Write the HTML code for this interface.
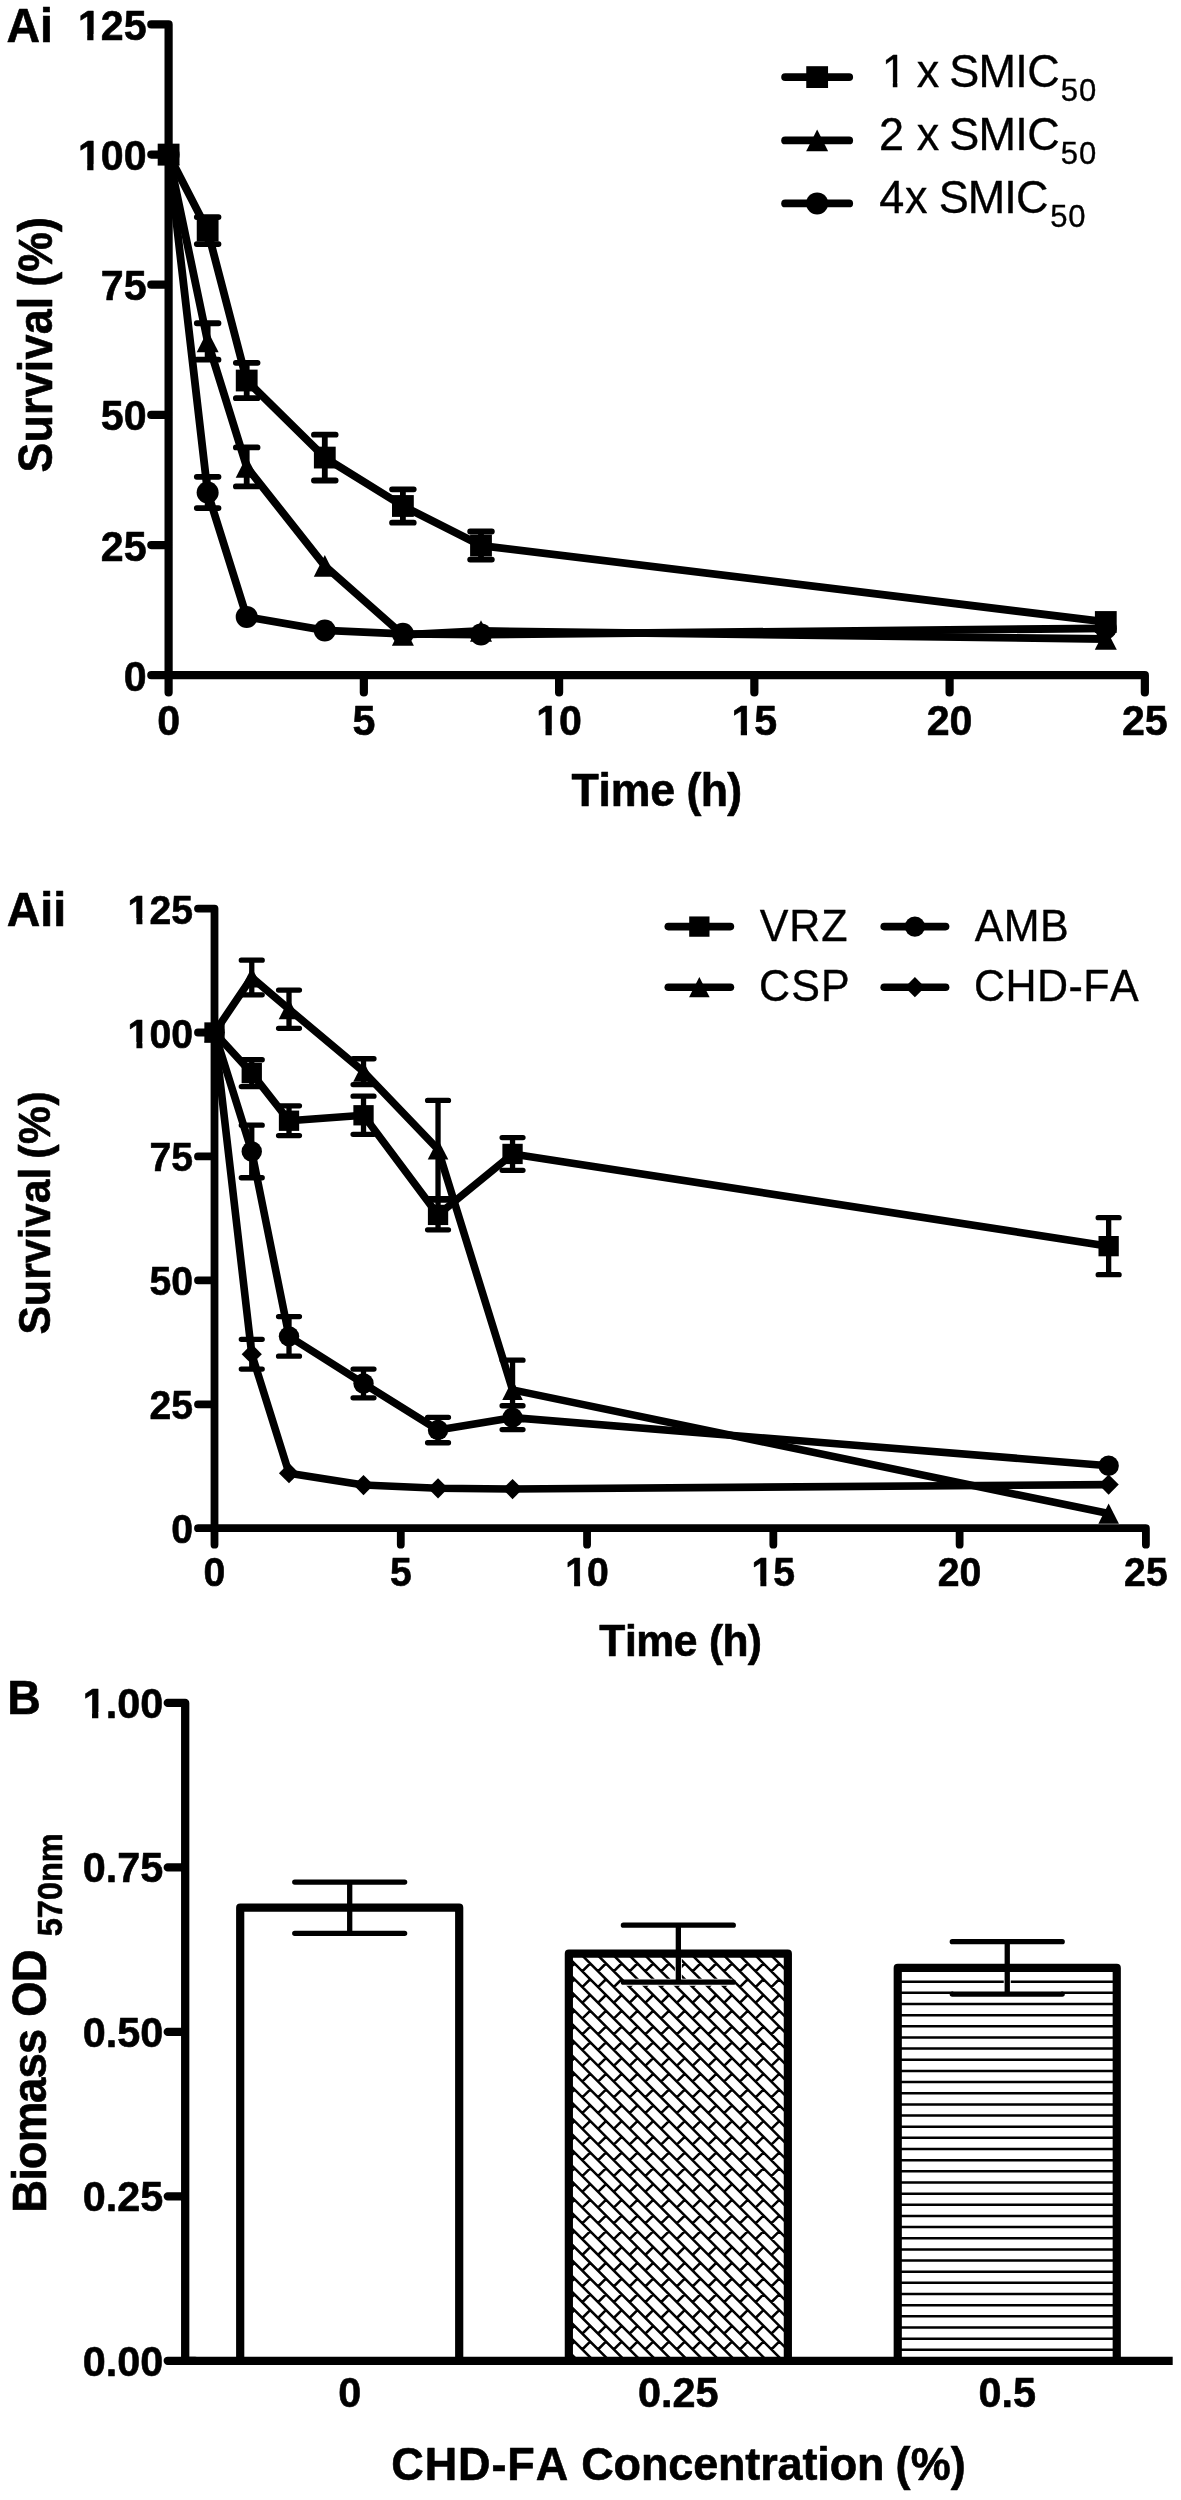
<!DOCTYPE html>
<html lang="en">
<head>
<meta charset="utf-8">
<title>Figure: time-kill curves and biomass</title>
<style>html,body{margin:0;padding:0;background:#fff;}body{width:1181px;height:2500px;overflow:hidden;font-family:"Liberation Sans",sans-serif;}svg{will-change:transform;}svg text{font-family:"Liberation Sans",sans-serif;font-kerning:none;stroke:#000;stroke-linejoin:round;}svg text[font-weight=bold]{stroke-width:.6px}svg text[font-weight=normal]{stroke-width:.35px}</style>
</head>
<body>
<svg width="1181" height="2500" viewBox="0 0 1181 2500" font-family="Liberation Sans, sans-serif" fill="#000" style="display:block">
<rect width="1181" height="2500" fill="#fff"/>
<g>
<g id="panel-ai"><path d="M151.3 24.4H168.6V692.5M151.3 675.2H1144.85V692.5M151.3 545.04H168.6M151.3 414.88H168.6M151.3 284.72H168.6M151.3 154.56H168.6M363.85 675.2V692.5M559.1 675.2V692.5M754.35 675.2V692.5M949.6 675.2V692.5" fill="none" stroke="#000" stroke-width="8.2" stroke-linecap="round" stroke-linejoin="round"/>
<text transform="translate(146.6 690.8) scale(0.98 1.02)" font-size="42" font-weight="bold" text-anchor="end">0</text>
<text transform="translate(146.6 560.64) scale(0.98 1.02)" font-size="42" font-weight="bold" text-anchor="end">25</text>
<text transform="translate(146.6 430.48) scale(0.98 1.02)" font-size="42" font-weight="bold" text-anchor="end">50</text>
<text transform="translate(146.6 300.32) scale(0.98 1.02)" font-size="42" font-weight="bold" text-anchor="end">75</text>
<text transform="translate(146.6 170.16) scale(0.98 1.02)" font-size="42" font-weight="bold" text-anchor="end">100</text><rect x="79.12" y="164.39" width="8.11" height="7.37" fill="#fff"/><rect x="93.48" y="164.39" width="7.59" height="7.37" fill="#fff"/>
<text transform="translate(146.6 40) scale(0.98 1.02)" font-size="42" font-weight="bold" text-anchor="end">125</text><rect x="79.12" y="34.23" width="8.11" height="7.37" fill="#fff"/><rect x="93.48" y="34.23" width="7.59" height="7.37" fill="#fff"/>
<text transform="translate(168.6 735.3) scale(0.98 1.02)" font-size="42" font-weight="bold" text-anchor="middle">0</text>
<text transform="translate(363.85 735.3) scale(0.98 1.02)" font-size="42" font-weight="bold" text-anchor="middle">5</text>
<text transform="translate(559.1 735.3) scale(0.98 1.02)" font-size="42" font-weight="bold" text-anchor="middle">10</text><rect x="537.4" y="729.53" width="8.11" height="7.37" fill="#fff"/><rect x="551.76" y="729.53" width="7.59" height="7.37" fill="#fff"/>
<text transform="translate(754.35 735.3) scale(0.98 1.02)" font-size="42" font-weight="bold" text-anchor="middle">15</text><rect x="732.65" y="729.53" width="8.11" height="7.37" fill="#fff"/><rect x="747.01" y="729.53" width="7.59" height="7.37" fill="#fff"/>
<text transform="translate(949.6 735.3) scale(0.98 1.02)" font-size="42" font-weight="bold" text-anchor="middle">20</text>
<text transform="translate(1144.85 735.3) scale(0.98 1.02)" font-size="42" font-weight="bold" text-anchor="middle">25</text>
<text transform="translate(51.8 472.59) rotate(-90) scale(1 1.07)" font-size="44.7" font-weight="bold" style="letter-spacing:0.274px;font-kerning:none">Survival</text>
<text transform="translate(51.8 286.63) rotate(-90) scale(1 1.07)" font-size="44.7" font-weight="bold" style="letter-spacing:0.018px;font-kerning:none">(%)</text>
<text transform="translate(571.5 806.3) scale(1 1.04)" font-size="44.7" font-weight="bold" style="letter-spacing:-0.266px;font-kerning:none">Time</text>
<text transform="translate(686.57 806.3) scale(1 1.04)" font-size="44.7" font-weight="bold" style="letter-spacing:-0.811px;font-kerning:none">(h)</text>
<text transform="translate(6.4 42) scale(1 1.04)" font-size="46.5" font-weight="bold" text-anchor="start">Ai</text>
<polyline points="168.6,154.56 207.65,230.57 246.7,380.52 324.8,457.57 402.9,505.99 481,545.56 1105.8,621.99" fill="none" stroke="#000" stroke-width="7.8" stroke-linejoin="round" stroke-linecap="round"/>
<g fill="none" stroke="#000" stroke-linecap="round"><path d="M207.65 217.04V244.11M196.8 217.04H218.5M196.8 244.11H218.5" stroke-width="5.8"/><path d="M246.7 362.82V398.22M235.85 362.82H257.55M235.85 398.22H257.55" stroke-width="5.8"/><path d="M324.8 434.66V480.48M313.95 434.66H335.65M313.95 480.48H335.65" stroke-width="5.8"/><path d="M402.9 489.33V522.65M392.05 489.33H413.75M392.05 522.65H413.75" stroke-width="5.8"/><path d="M481 531.5V559.62M470.15 531.5H491.85M470.15 559.62H491.85" stroke-width="5.8"/></g>
<g fill="#000"><rect x="157.7" y="143.66" width="21.8" height="21.8"/><rect x="196.75" y="219.67" width="21.8" height="21.8"/><rect x="235.8" y="369.62" width="21.8" height="21.8"/><rect x="313.9" y="446.67" width="21.8" height="21.8"/><rect x="392" y="495.09" width="21.8" height="21.8"/><rect x="470.1" y="534.66" width="21.8" height="21.8"/><rect x="1094.9" y="611.09" width="21.8" height="21.8"/></g>
<polyline points="168.6,154.56 207.65,341.47 246.7,466.94 324.8,565.87 402.9,634.85 481,630.95 1105.8,639.02" fill="none" stroke="#000" stroke-width="7.8" stroke-linejoin="round" stroke-linecap="round"/>
<g fill="none" stroke="#000" stroke-linecap="round"><path d="M207.65 323.25V359.69M196.8 323.25H218.5M196.8 359.69H218.5" stroke-width="5.8"/><path d="M246.7 447.42V486.47M235.85 447.42H257.55M235.85 486.47H257.55" stroke-width="5.8"/></g>
<g fill="#000"><path d="M168.6 143.78L179.6 165.34L157.6 165.34Z"/><path d="M207.65 330.69L218.65 352.25L196.65 352.25Z"/><path d="M246.7 456.16L257.7 477.72L235.7 477.72Z"/><path d="M324.8 555.09L335.8 576.65L313.8 576.65Z"/><path d="M402.9 624.07L413.9 645.63L391.9 645.63Z"/><path d="M481 620.17L492 641.73L470 641.73Z"/><path d="M1105.8 628.24L1116.8 649.8L1094.8 649.8Z"/></g>
<polyline points="168.6,154.56 207.65,492.46 246.7,616.89 324.8,630.42 402.9,633.81 481,634.59 1105.8,628.34" fill="none" stroke="#000" stroke-width="7.8" stroke-linejoin="round" stroke-linecap="round"/>
<g fill="none" stroke="#000" stroke-linecap="round"><path d="M207.65 476.84V508.07M196.8 476.84H218.5M196.8 508.07H218.5" stroke-width="5.8"/></g>
<g fill="#000"><circle cx="168.6" cy="154.56" r="11"/><circle cx="207.65" cy="492.46" r="11"/><circle cx="246.7" cy="616.89" r="11"/><circle cx="324.8" cy="630.42" r="11"/><circle cx="402.9" cy="633.81" r="11"/><circle cx="481" cy="634.59" r="11"/><circle cx="1105.8" cy="628.34" r="11"/></g>
<path d="M785.1 77.1H849.2" stroke="#000" stroke-width="7.8" stroke-linecap="round"/>
<g fill="#000"><rect x="806.25" y="66.2" width="21.8" height="21.8"/></g>
<path d="M785.1 140.4H849.2" stroke="#000" stroke-width="7.8" stroke-linecap="round"/>
<g fill="#000"><path d="M817.15 129.62L828.15 151.18L806.15 151.18Z"/></g>
<path d="M785.1 203.4H849.2" stroke="#000" stroke-width="7.8" stroke-linecap="round"/>
<g fill="#000"><circle cx="817.15" cy="203.4" r="11"/></g>
<text transform="translate(894.3 87) scale(1 1.04)" font-size="45" font-weight="normal" text-anchor="middle">1</text><rect x="883.81" y="82.1" width="8.99" height="6.5" fill="#fff"/><rect x="897.38" y="82.1" width="8.64" height="6.5" fill="#fff"/>
<text transform="translate(916.69 87) scale(1 1.04)" font-size="45" font-weight="normal" style="letter-spacing:0.000px;font-kerning:none">x</text>
<text transform="translate(949.26 87) scale(1 1.04)" font-size="45" font-weight="normal" style="letter-spacing:-0.681px;font-kerning:none">SMIC</text>
<text transform="translate(1060.86 101.1) scale(1 1.04)" font-size="31" font-weight="normal" style="letter-spacing:0.871px;font-kerning:none">50</text>
<text transform="translate(878.94 149.7) scale(1 1.04)" font-size="45" font-weight="normal" style="letter-spacing:0.000px;font-kerning:none">2</text>
<text transform="translate(916.69 149.7) scale(1 1.04)" font-size="45" font-weight="normal" style="letter-spacing:0.000px;font-kerning:none">x</text>
<text transform="translate(949.26 149.7) scale(1 1.04)" font-size="45" font-weight="normal" style="letter-spacing:-0.681px;font-kerning:none">SMIC</text>
<text transform="translate(1060.86 163.7) scale(1 1.04)" font-size="31" font-weight="normal" style="letter-spacing:0.871px;font-kerning:none">50</text>
<text transform="translate(879.17 212.7) scale(1 1.04)" font-size="45" font-weight="normal" style="letter-spacing:0.689px;font-kerning:none">4x</text>
<text transform="translate(938.66 212.7) scale(1 1.04)" font-size="45" font-weight="normal" style="letter-spacing:-0.881px;font-kerning:none">SMIC</text>
<text transform="translate(1050.26 226.7) scale(1 1.04)" font-size="31" font-weight="normal" style="letter-spacing:0.871px;font-kerning:none">50</text></g>
<g id="panel-aii"><path d="M198 908.58H214.5V1544.7M198 1528.2H1145.9V1544.7M198 1404.28H214.5M198 1280.35H214.5M198 1156.43H214.5M198 1032.5H214.5M400.78 1528.2V1544.7M587.06 1528.2V1544.7M773.34 1528.2V1544.7M959.62 1528.2V1544.7" fill="none" stroke="#000" stroke-width="7.8" stroke-linecap="round" stroke-linejoin="round"/>
<text transform="translate(193 1543.2) scale(0.98 1.02)" font-size="40" font-weight="bold" text-anchor="end">0</text>
<text transform="translate(193 1419.28) scale(0.98 1.02)" font-size="40" font-weight="bold" text-anchor="end">25</text>
<text transform="translate(193 1295.35) scale(0.98 1.02)" font-size="40" font-weight="bold" text-anchor="end">50</text>
<text transform="translate(193 1171.43) scale(0.98 1.02)" font-size="40" font-weight="bold" text-anchor="end">75</text>
<text transform="translate(193 1047.5) scale(0.98 1.02)" font-size="40" font-weight="bold" text-anchor="end">100</text><rect x="128.67" y="1041.94" width="7.78" height="7.16" fill="#fff"/><rect x="142.42" y="1041.94" width="7.28" height="7.16" fill="#fff"/>
<text transform="translate(193 923.58) scale(0.98 1.02)" font-size="40" font-weight="bold" text-anchor="end">125</text><rect x="128.67" y="918.01" width="7.78" height="7.16" fill="#fff"/><rect x="142.42" y="918.01" width="7.28" height="7.16" fill="#fff"/>
<text transform="translate(214.5 1586.3) scale(0.98 1.02)" font-size="40" font-weight="bold" text-anchor="middle">0</text>
<text transform="translate(400.78 1586.3) scale(0.98 1.02)" font-size="40" font-weight="bold" text-anchor="middle">5</text>
<text transform="translate(587.06 1586.3) scale(0.98 1.02)" font-size="40" font-weight="bold" text-anchor="middle">10</text><rect x="566.33" y="1580.74" width="7.78" height="7.16" fill="#fff"/><rect x="580.09" y="1580.74" width="7.28" height="7.16" fill="#fff"/>
<text transform="translate(773.34 1586.3) scale(0.98 1.02)" font-size="40" font-weight="bold" text-anchor="middle">15</text><rect x="752.61" y="1580.74" width="7.78" height="7.16" fill="#fff"/><rect x="766.37" y="1580.74" width="7.28" height="7.16" fill="#fff"/>
<text transform="translate(959.62 1586.3) scale(0.98 1.02)" font-size="40" font-weight="bold" text-anchor="middle">20</text>
<text transform="translate(1145.9 1586.3) scale(0.98 1.02)" font-size="40" font-weight="bold" text-anchor="middle">25</text>
<text transform="translate(49.9 1334.53) rotate(-90) scale(1 1.06)" font-size="42.6" font-weight="bold" style="letter-spacing:0.183px;font-kerning:none">Survival</text>
<text transform="translate(49.9 1158.82) rotate(-90) scale(1 1.06)" font-size="42.6" font-weight="bold" style="letter-spacing:0.696px;font-kerning:none">(%)</text>
<text transform="translate(599.32 1656) scale(1 1.04)" font-size="42.6" font-weight="bold" style="letter-spacing:-0.431px;font-kerning:none">Time</text>
<text transform="translate(709.08 1656) scale(1 1.04)" font-size="42.6" font-weight="bold" style="letter-spacing:-0.775px;font-kerning:none">(h)</text>
<text transform="translate(6.8 925.5) scale(1 1.04)" font-size="46.5" font-weight="bold" text-anchor="start">Aii</text>
<polyline points="214.5,1032.5 251.76,1073.15 289.01,1120.73 363.52,1115.28 438.04,1214.92 512.55,1153.95 1108.64,1246.15" fill="none" stroke="#000" stroke-width="7.6" stroke-linejoin="round" stroke-linecap="round"/>
<g fill="none" stroke="#000" stroke-linecap="round"><path d="M251.76 1059.76V1086.53M241.31 1059.76H262.21M241.31 1086.53H262.21" stroke-width="5.3"/><path d="M289.01 1105.86V1135.61M278.56 1105.86H299.46M278.56 1135.61H299.46" stroke-width="5.3"/><path d="M363.52 1096.2V1134.37M353.07 1096.2H373.97M353.07 1134.37H373.97" stroke-width="5.3"/><path d="M438.04 1200.05V1229.79M427.59 1200.05H448.49M427.59 1229.79H448.49" stroke-width="5.3"/><path d="M512.55 1137.59V1170.3M502.1 1137.59H523M502.1 1170.3H523" stroke-width="5.3"/><path d="M1108.64 1217.64V1274.65M1098.19 1217.64H1119.09M1098.19 1274.65H1119.09" stroke-width="5.3"/></g>
<g fill="#000"><rect x="204.35" y="1022.35" width="20.3" height="20.3"/><rect x="241.61" y="1063" width="20.3" height="20.3"/><rect x="278.86" y="1110.58" width="20.3" height="20.3"/><rect x="353.37" y="1105.13" width="20.3" height="20.3"/><rect x="427.89" y="1204.77" width="20.3" height="20.3"/><rect x="502.4" y="1143.8" width="20.3" height="20.3"/><rect x="1098.49" y="1236" width="20.3" height="20.3"/></g>
<polyline points="214.5,1032.5 251.76,977.48 289.01,1009.2 363.52,1071.66 438.04,1149.49 512.55,1389.9 1108.64,1513.58" fill="none" stroke="#000" stroke-width="7.6" stroke-linejoin="round" stroke-linecap="round"/>
<g fill="none" stroke="#000" stroke-linecap="round"><path d="M251.76 960.13V994.83M241.31 960.13H262.21M241.31 994.83H262.21" stroke-width="5.3"/><path d="M289.01 990.12V1028.29M278.56 990.12H299.46M278.56 1028.29H299.46" stroke-width="5.3"/><path d="M363.52 1058.77V1084.55M353.07 1058.77H373.97M353.07 1084.55H373.97" stroke-width="5.3"/><path d="M438.04 1100.41V1198.56M427.59 1100.41H448.49M427.59 1198.56H448.49" stroke-width="5.3"/><path d="M512.55 1360.16V1419.64M502.1 1360.16H523M502.1 1419.64H523" stroke-width="5.3"/></g>
<g fill="#000"><path d="M214.5 1022.41L224.8 1042.59L204.2 1042.59Z"/><path d="M251.76 967.38L262.06 987.57L241.46 987.57Z"/><path d="M289.01 999.11L299.31 1019.3L278.71 1019.3Z"/><path d="M363.52 1061.57L373.82 1081.75L353.22 1081.75Z"/><path d="M438.04 1139.39L448.34 1159.58L427.74 1159.58Z"/><path d="M512.55 1379.81L522.85 1399.99L502.25 1399.99Z"/><path d="M1108.64 1503.48L1118.94 1523.67L1098.34 1523.67Z"/></g>
<polyline points="214.5,1032.5 251.76,1151.47 289.01,1336.36 363.52,1383.46 438.04,1430.05 512.55,1417.66 1108.64,1465.74" fill="none" stroke="#000" stroke-width="7.6" stroke-linejoin="round" stroke-linecap="round"/>
<g fill="none" stroke="#000" stroke-linecap="round"><path d="M251.76 1125.2V1177.74M241.31 1125.2H262.21M241.31 1177.74H262.21" stroke-width="5.3"/><path d="M289.01 1316.54V1356.19M278.56 1316.54H299.46M278.56 1356.19H299.46" stroke-width="5.3"/><path d="M363.52 1369.08V1397.83M353.07 1369.08H373.97M353.07 1397.83H373.97" stroke-width="5.3"/><path d="M438.04 1417.36V1442.74M427.59 1417.36H448.49M427.59 1442.74H448.49" stroke-width="5.3"/><path d="M512.55 1405.76V1429.56M502.1 1405.76H523M502.1 1429.56H523" stroke-width="5.3"/></g>
<g fill="#000"><circle cx="214.5" cy="1032.5" r="10.2"/><circle cx="251.76" cy="1151.47" r="10.2"/><circle cx="289.01" cy="1336.36" r="10.2"/><circle cx="363.52" cy="1383.46" r="10.2"/><circle cx="438.04" cy="1430.05" r="10.2"/><circle cx="512.55" cy="1417.66" r="10.2"/><circle cx="1108.64" cy="1465.74" r="10.2"/></g>
<polyline points="214.5,1032.5 251.76,1354.21 289.01,1473.18 363.52,1485.07 438.04,1488.3 512.55,1489.04 1108.64,1484.58" fill="none" stroke="#000" stroke-width="7.6" stroke-linejoin="round" stroke-linecap="round"/>
<g fill="none" stroke="#000" stroke-linecap="round"><path d="M251.76 1339.34V1369.08M241.31 1339.34H262.21M241.31 1369.08H262.21" stroke-width="5.3"/></g>
<g fill="#000"><path d="M214.5 1022.41L224.59 1032.5L214.5 1042.59L204.41 1032.5Z"/><path d="M251.76 1344.12L261.85 1354.21L251.76 1364.3L241.66 1354.21Z"/><path d="M289.01 1463.08L299.11 1473.18L289.01 1483.27L278.92 1473.18Z"/><path d="M363.52 1474.98L373.62 1485.07L363.52 1495.17L353.43 1485.07Z"/><path d="M438.04 1478.2L448.13 1488.3L438.04 1498.39L427.94 1488.3Z"/><path d="M512.55 1478.95L522.64 1489.04L512.55 1499.13L502.45 1489.04Z"/><path d="M1108.64 1474.48L1118.74 1484.58L1108.64 1494.67L1098.55 1484.58Z"/></g>
<path d="M668.3 926.6H730.4" stroke="#000" stroke-width="7.6" stroke-linecap="round"/>
<g fill="#000"><rect x="689.2" y="916.45" width="20.3" height="20.3"/></g>
<path d="M668.3 987.2H730.4" stroke="#000" stroke-width="7.6" stroke-linecap="round"/>
<g fill="#000"><path d="M699.35 977.11L709.65 997.29L689.05 997.29Z"/></g>
<path d="M884.2 926.6H945.6" stroke="#000" stroke-width="7.6" stroke-linecap="round"/>
<g fill="#000"><circle cx="914.9" cy="926.6" r="10.2"/></g>
<path d="M884.2 987.2H945.6" stroke="#000" stroke-width="7.6" stroke-linecap="round"/>
<g fill="#000"><path d="M914.9 977.11L924.99 987.2L914.9 997.29L904.81 987.2Z"/></g>
<text transform="translate(759.71 941.1) scale(1 1.04)" font-size="43" font-weight="normal" style="letter-spacing:0.966px;font-kerning:none">VRZ</text>
<text transform="translate(758.92 1001.4) scale(1 1.04)" font-size="43" font-weight="normal" style="letter-spacing:1.218px;font-kerning:none">CSP</text>
<text transform="translate(974.82 941.1) scale(1 1.04)" font-size="43" font-weight="normal" style="letter-spacing:0.285px;font-kerning:none">AMB</text>
<text transform="translate(973.92 1001.4) scale(1 1.04)" font-size="43" font-weight="normal" style="letter-spacing:0.488px;font-kerning:none">CHD-FA</text></g>
<g id="panel-b"><defs>
<clipPath id="cb0"><rect x="240.2" y="1907.7" width="219" height="453.1"/></clipPath>
<clipPath id="cb1"><rect x="568.85" y="1953.69" width="219" height="407.11"/></clipPath>
<clipPath id="cb2"><rect x="897.75" y="1967.9" width="219" height="392.9"/></clipPath>
</defs>
<path clip-path="url(#cb1)" d="M137.31 1951.69L548.42 2362.8M153.07 1951.69L564.18 2362.8M168.82 1951.69L579.93 2362.8M184.58 1951.69L595.69 2362.8M200.33 1951.69L611.44 2362.8M216.09 1951.69L627.2 2362.8M231.84 1951.69L642.95 2362.8M247.6 1951.69L658.71 2362.8M263.35 1951.69L674.46 2362.8M279.11 1951.69L690.22 2362.8M294.86 1951.69L705.97 2362.8M310.62 1951.69L721.73 2362.8M326.37 1951.69L737.48 2362.8M342.13 1951.69L753.24 2362.8M357.88 1951.69L768.99 2362.8M373.64 1951.69L784.75 2362.8M389.39 1951.69L800.5 2362.8M405.15 1951.69L816.26 2362.8M420.9 1951.69L832.01 2362.8M436.66 1951.69L847.77 2362.8M452.41 1951.69L863.52 2362.8M468.17 1951.69L879.28 2362.8M483.92 1951.69L895.03 2362.8M499.68 1951.69L910.79 2362.8M515.43 1951.69L926.54 2362.8M531.19 1951.69L942.3 2362.8M546.94 1951.69L958.05 2362.8M562.7 1951.69L973.81 2362.8M578.45 1951.69L989.56 2362.8M594.21 1951.69L1005.32 2362.8M609.96 1951.69L1021.07 2362.8M625.72 1951.69L1036.83 2362.8M641.47 1951.69L1052.58 2362.8M657.23 1951.69L1068.34 2362.8M672.98 1951.69L1084.09 2362.8M688.74 1951.69L1099.85 2362.8M704.49 1951.69L1115.6 2362.8M720.25 1951.69L1131.36 2362.8M736 1951.69L1147.11 2362.8M751.76 1951.69L1162.87 2362.8M767.51 1951.69L1178.62 2362.8M783.27 1951.69L1194.38 2362.8M799.02 1951.69L1210.13 2362.8M814.78 1951.69L1225.89 2362.8M535 1924.12L542.87 1916.25M535 1939.88L542.87 1932M535 1955.63L542.87 1947.76M535 1971.39L542.87 1963.51M535 1987.14L542.87 1979.27M535 2002.9L542.87 1995.02M535 2018.65L542.87 2010.78M535 2034.41L542.87 2026.53M535 2050.16L542.87 2042.29M535 2065.92L542.87 2058.04M535 2081.67L542.87 2073.8M535 2097.43L542.87 2089.55M535 2113.18L542.87 2105.31M535 2128.94L542.87 2121.06M535 2144.69L542.87 2136.82M535 2160.45L542.87 2152.57M535 2176.2L542.87 2168.33M535 2191.96L542.87 2184.08M535 2207.71L542.87 2199.84M535 2223.47L542.87 2215.59M535 2239.22L542.87 2231.35M535 2254.98L542.87 2247.1M535 2270.73L542.87 2262.86M535 2286.49L542.87 2278.61M535 2302.24L542.87 2294.37M535 2318L542.87 2310.12M535 2333.75L542.87 2325.88M535 2349.51L542.87 2341.63M535 2365.26L542.87 2357.39M535 2381.02L542.87 2373.14M535 2396.77L542.87 2388.9M550.75 1924.12L558.63 1916.25M550.75 1939.88L558.63 1932M550.75 1955.63L558.63 1947.76M550.75 1971.39L558.63 1963.51M550.75 1987.14L558.63 1979.27M550.75 2002.9L558.63 1995.02M550.75 2018.65L558.63 2010.78M550.75 2034.41L558.63 2026.53M550.75 2050.16L558.63 2042.29M550.75 2065.92L558.63 2058.04M550.75 2081.67L558.63 2073.8M550.75 2097.43L558.63 2089.55M550.75 2113.18L558.63 2105.31M550.75 2128.94L558.63 2121.06M550.75 2144.69L558.63 2136.82M550.75 2160.45L558.63 2152.57M550.75 2176.2L558.63 2168.33M550.75 2191.96L558.63 2184.08M550.75 2207.71L558.63 2199.84M550.75 2223.47L558.63 2215.59M550.75 2239.22L558.63 2231.35M550.75 2254.98L558.63 2247.1M550.75 2270.73L558.63 2262.86M550.75 2286.49L558.63 2278.61M550.75 2302.24L558.63 2294.37M550.75 2318L558.63 2310.12M550.75 2333.75L558.63 2325.88M550.75 2349.51L558.63 2341.63M550.75 2365.26L558.63 2357.39M550.75 2381.02L558.63 2373.14M550.75 2396.77L558.63 2388.9M566.51 1924.12L574.38 1916.25M566.51 1939.88L574.38 1932M566.51 1955.63L574.38 1947.76M566.51 1971.39L574.38 1963.51M566.51 1987.14L574.38 1979.27M566.51 2002.9L574.38 1995.02M566.51 2018.65L574.38 2010.78M566.51 2034.41L574.38 2026.53M566.51 2050.16L574.38 2042.29M566.51 2065.92L574.38 2058.04M566.51 2081.67L574.38 2073.8M566.51 2097.43L574.38 2089.55M566.51 2113.18L574.38 2105.31M566.51 2128.94L574.38 2121.06M566.51 2144.69L574.38 2136.82M566.51 2160.45L574.38 2152.57M566.51 2176.2L574.38 2168.33M566.51 2191.96L574.38 2184.08M566.51 2207.71L574.38 2199.84M566.51 2223.47L574.38 2215.59M566.51 2239.22L574.38 2231.35M566.51 2254.98L574.38 2247.1M566.51 2270.73L574.38 2262.86M566.51 2286.49L574.38 2278.61M566.51 2302.24L574.38 2294.37M566.51 2318L574.38 2310.12M566.51 2333.75L574.38 2325.88M566.51 2349.51L574.38 2341.63M566.51 2365.26L574.38 2357.39M566.51 2381.02L574.38 2373.14M566.51 2396.77L574.38 2388.9M582.26 1924.12L590.14 1916.25M582.26 1939.88L590.14 1932M582.26 1955.63L590.14 1947.76M582.26 1971.39L590.14 1963.51M582.26 1987.14L590.14 1979.27M582.26 2002.9L590.14 1995.02M582.26 2018.65L590.14 2010.78M582.26 2034.41L590.14 2026.53M582.26 2050.16L590.14 2042.29M582.26 2065.92L590.14 2058.04M582.26 2081.67L590.14 2073.8M582.26 2097.43L590.14 2089.55M582.26 2113.18L590.14 2105.31M582.26 2128.94L590.14 2121.06M582.26 2144.69L590.14 2136.82M582.26 2160.45L590.14 2152.57M582.26 2176.2L590.14 2168.33M582.26 2191.96L590.14 2184.08M582.26 2207.71L590.14 2199.84M582.26 2223.47L590.14 2215.59M582.26 2239.22L590.14 2231.35M582.26 2254.98L590.14 2247.1M582.26 2270.73L590.14 2262.86M582.26 2286.49L590.14 2278.61M582.26 2302.24L590.14 2294.37M582.26 2318L590.14 2310.12M582.26 2333.75L590.14 2325.88M582.26 2349.51L590.14 2341.63M582.26 2365.26L590.14 2357.39M582.26 2381.02L590.14 2373.14M582.26 2396.77L590.14 2388.9M598.02 1924.12L605.89 1916.25M598.02 1939.88L605.89 1932M598.02 1955.63L605.89 1947.76M598.02 1971.39L605.89 1963.51M598.02 1987.14L605.89 1979.27M598.02 2002.9L605.89 1995.02M598.02 2018.65L605.89 2010.78M598.02 2034.41L605.89 2026.53M598.02 2050.16L605.89 2042.29M598.02 2065.92L605.89 2058.04M598.02 2081.67L605.89 2073.8M598.02 2097.43L605.89 2089.55M598.02 2113.18L605.89 2105.31M598.02 2128.94L605.89 2121.06M598.02 2144.69L605.89 2136.82M598.02 2160.45L605.89 2152.57M598.02 2176.2L605.89 2168.33M598.02 2191.96L605.89 2184.08M598.02 2207.71L605.89 2199.84M598.02 2223.47L605.89 2215.59M598.02 2239.22L605.89 2231.35M598.02 2254.98L605.89 2247.1M598.02 2270.73L605.89 2262.86M598.02 2286.49L605.89 2278.61M598.02 2302.24L605.89 2294.37M598.02 2318L605.89 2310.12M598.02 2333.75L605.89 2325.88M598.02 2349.51L605.89 2341.63M598.02 2365.26L605.89 2357.39M598.02 2381.02L605.89 2373.14M598.02 2396.77L605.89 2388.9M613.77 1924.12L621.65 1916.25M613.77 1939.88L621.65 1932M613.77 1955.63L621.65 1947.76M613.77 1971.39L621.65 1963.51M613.77 1987.14L621.65 1979.27M613.77 2002.9L621.65 1995.02M613.77 2018.65L621.65 2010.78M613.77 2034.41L621.65 2026.53M613.77 2050.16L621.65 2042.29M613.77 2065.92L621.65 2058.04M613.77 2081.67L621.65 2073.8M613.77 2097.43L621.65 2089.55M613.77 2113.18L621.65 2105.31M613.77 2128.94L621.65 2121.06M613.77 2144.69L621.65 2136.82M613.77 2160.45L621.65 2152.57M613.77 2176.2L621.65 2168.33M613.77 2191.96L621.65 2184.08M613.77 2207.71L621.65 2199.84M613.77 2223.47L621.65 2215.59M613.77 2239.22L621.65 2231.35M613.77 2254.98L621.65 2247.1M613.77 2270.73L621.65 2262.86M613.77 2286.49L621.65 2278.61M613.77 2302.24L621.65 2294.37M613.77 2318L621.65 2310.12M613.77 2333.75L621.65 2325.88M613.77 2349.51L621.65 2341.63M613.77 2365.26L621.65 2357.39M613.77 2381.02L621.65 2373.14M613.77 2396.77L621.65 2388.9M629.53 1924.12L637.4 1916.25M629.53 1939.88L637.4 1932M629.53 1955.63L637.4 1947.76M629.53 1971.39L637.4 1963.51M629.53 1987.14L637.4 1979.27M629.53 2002.9L637.4 1995.02M629.53 2018.65L637.4 2010.78M629.53 2034.41L637.4 2026.53M629.53 2050.16L637.4 2042.29M629.53 2065.92L637.4 2058.04M629.53 2081.67L637.4 2073.8M629.53 2097.43L637.4 2089.55M629.53 2113.18L637.4 2105.31M629.53 2128.94L637.4 2121.06M629.53 2144.69L637.4 2136.82M629.53 2160.45L637.4 2152.57M629.53 2176.2L637.4 2168.33M629.53 2191.96L637.4 2184.08M629.53 2207.71L637.4 2199.84M629.53 2223.47L637.4 2215.59M629.53 2239.22L637.4 2231.35M629.53 2254.98L637.4 2247.1M629.53 2270.73L637.4 2262.86M629.53 2286.49L637.4 2278.61M629.53 2302.24L637.4 2294.37M629.53 2318L637.4 2310.12M629.53 2333.75L637.4 2325.88M629.53 2349.51L637.4 2341.63M629.53 2365.26L637.4 2357.39M629.53 2381.02L637.4 2373.14M629.53 2396.77L637.4 2388.9M645.28 1924.12L653.16 1916.25M645.28 1939.88L653.16 1932M645.28 1955.63L653.16 1947.76M645.28 1971.39L653.16 1963.51M645.28 1987.14L653.16 1979.27M645.28 2002.9L653.16 1995.02M645.28 2018.65L653.16 2010.78M645.28 2034.41L653.16 2026.53M645.28 2050.16L653.16 2042.29M645.28 2065.92L653.16 2058.04M645.28 2081.67L653.16 2073.8M645.28 2097.43L653.16 2089.55M645.28 2113.18L653.16 2105.31M645.28 2128.94L653.16 2121.06M645.28 2144.69L653.16 2136.82M645.28 2160.45L653.16 2152.57M645.28 2176.2L653.16 2168.33M645.28 2191.96L653.16 2184.08M645.28 2207.71L653.16 2199.84M645.28 2223.47L653.16 2215.59M645.28 2239.22L653.16 2231.35M645.28 2254.98L653.16 2247.1M645.28 2270.73L653.16 2262.86M645.28 2286.49L653.16 2278.61M645.28 2302.24L653.16 2294.37M645.28 2318L653.16 2310.12M645.28 2333.75L653.16 2325.88M645.28 2349.51L653.16 2341.63M645.28 2365.26L653.16 2357.39M645.28 2381.02L653.16 2373.14M645.28 2396.77L653.16 2388.9M661.04 1924.12L668.91 1916.25M661.04 1939.88L668.91 1932M661.04 1955.63L668.91 1947.76M661.04 1971.39L668.91 1963.51M661.04 1987.14L668.91 1979.27M661.04 2002.9L668.91 1995.02M661.04 2018.65L668.91 2010.78M661.04 2034.41L668.91 2026.53M661.04 2050.16L668.91 2042.29M661.04 2065.92L668.91 2058.04M661.04 2081.67L668.91 2073.8M661.04 2097.43L668.91 2089.55M661.04 2113.18L668.91 2105.31M661.04 2128.94L668.91 2121.06M661.04 2144.69L668.91 2136.82M661.04 2160.45L668.91 2152.57M661.04 2176.2L668.91 2168.33M661.04 2191.96L668.91 2184.08M661.04 2207.71L668.91 2199.84M661.04 2223.47L668.91 2215.59M661.04 2239.22L668.91 2231.35M661.04 2254.98L668.91 2247.1M661.04 2270.73L668.91 2262.86M661.04 2286.49L668.91 2278.61M661.04 2302.24L668.91 2294.37M661.04 2318L668.91 2310.12M661.04 2333.75L668.91 2325.88M661.04 2349.51L668.91 2341.63M661.04 2365.26L668.91 2357.39M661.04 2381.02L668.91 2373.14M661.04 2396.77L668.91 2388.9M676.79 1924.12L684.67 1916.25M676.79 1939.88L684.67 1932M676.79 1955.63L684.67 1947.76M676.79 1971.39L684.67 1963.51M676.79 1987.14L684.67 1979.27M676.79 2002.9L684.67 1995.02M676.79 2018.65L684.67 2010.78M676.79 2034.41L684.67 2026.53M676.79 2050.16L684.67 2042.29M676.79 2065.92L684.67 2058.04M676.79 2081.67L684.67 2073.8M676.79 2097.43L684.67 2089.55M676.79 2113.18L684.67 2105.31M676.79 2128.94L684.67 2121.06M676.79 2144.69L684.67 2136.82M676.79 2160.45L684.67 2152.57M676.79 2176.2L684.67 2168.33M676.79 2191.96L684.67 2184.08M676.79 2207.71L684.67 2199.84M676.79 2223.47L684.67 2215.59M676.79 2239.22L684.67 2231.35M676.79 2254.98L684.67 2247.1M676.79 2270.73L684.67 2262.86M676.79 2286.49L684.67 2278.61M676.79 2302.24L684.67 2294.37M676.79 2318L684.67 2310.12M676.79 2333.75L684.67 2325.88M676.79 2349.51L684.67 2341.63M676.79 2365.26L684.67 2357.39M676.79 2381.02L684.67 2373.14M676.79 2396.77L684.67 2388.9M692.55 1924.12L700.42 1916.25M692.55 1939.88L700.42 1932M692.55 1955.63L700.42 1947.76M692.55 1971.39L700.42 1963.51M692.55 1987.14L700.42 1979.27M692.55 2002.9L700.42 1995.02M692.55 2018.65L700.42 2010.78M692.55 2034.41L700.42 2026.53M692.55 2050.16L700.42 2042.29M692.55 2065.92L700.42 2058.04M692.55 2081.67L700.42 2073.8M692.55 2097.43L700.42 2089.55M692.55 2113.18L700.42 2105.31M692.55 2128.94L700.42 2121.06M692.55 2144.69L700.42 2136.82M692.55 2160.45L700.42 2152.57M692.55 2176.2L700.42 2168.33M692.55 2191.96L700.42 2184.08M692.55 2207.71L700.42 2199.84M692.55 2223.47L700.42 2215.59M692.55 2239.22L700.42 2231.35M692.55 2254.98L700.42 2247.1M692.55 2270.73L700.42 2262.86M692.55 2286.49L700.42 2278.61M692.55 2302.24L700.42 2294.37M692.55 2318L700.42 2310.12M692.55 2333.75L700.42 2325.88M692.55 2349.51L700.42 2341.63M692.55 2365.26L700.42 2357.39M692.55 2381.02L700.42 2373.14M692.55 2396.77L700.42 2388.9M708.3 1924.12L716.18 1916.25M708.3 1939.88L716.18 1932M708.3 1955.63L716.18 1947.76M708.3 1971.39L716.18 1963.51M708.3 1987.14L716.18 1979.27M708.3 2002.9L716.18 1995.02M708.3 2018.65L716.18 2010.78M708.3 2034.41L716.18 2026.53M708.3 2050.16L716.18 2042.29M708.3 2065.92L716.18 2058.04M708.3 2081.67L716.18 2073.8M708.3 2097.43L716.18 2089.55M708.3 2113.18L716.18 2105.31M708.3 2128.94L716.18 2121.06M708.3 2144.69L716.18 2136.82M708.3 2160.45L716.18 2152.57M708.3 2176.2L716.18 2168.33M708.3 2191.96L716.18 2184.08M708.3 2207.71L716.18 2199.84M708.3 2223.47L716.18 2215.59M708.3 2239.22L716.18 2231.35M708.3 2254.98L716.18 2247.1M708.3 2270.73L716.18 2262.86M708.3 2286.49L716.18 2278.61M708.3 2302.24L716.18 2294.37M708.3 2318L716.18 2310.12M708.3 2333.75L716.18 2325.88M708.3 2349.51L716.18 2341.63M708.3 2365.26L716.18 2357.39M708.3 2381.02L716.18 2373.14M708.3 2396.77L716.18 2388.9M724.06 1924.12L731.93 1916.25M724.06 1939.88L731.93 1932M724.06 1955.63L731.93 1947.76M724.06 1971.39L731.93 1963.51M724.06 1987.14L731.93 1979.27M724.06 2002.9L731.93 1995.02M724.06 2018.65L731.93 2010.78M724.06 2034.41L731.93 2026.53M724.06 2050.16L731.93 2042.29M724.06 2065.92L731.93 2058.04M724.06 2081.67L731.93 2073.8M724.06 2097.43L731.93 2089.55M724.06 2113.18L731.93 2105.31M724.06 2128.94L731.93 2121.06M724.06 2144.69L731.93 2136.82M724.06 2160.45L731.93 2152.57M724.06 2176.2L731.93 2168.33M724.06 2191.96L731.93 2184.08M724.06 2207.71L731.93 2199.84M724.06 2223.47L731.93 2215.59M724.06 2239.22L731.93 2231.35M724.06 2254.98L731.93 2247.1M724.06 2270.73L731.93 2262.86M724.06 2286.49L731.93 2278.61M724.06 2302.24L731.93 2294.37M724.06 2318L731.93 2310.12M724.06 2333.75L731.93 2325.88M724.06 2349.51L731.93 2341.63M724.06 2365.26L731.93 2357.39M724.06 2381.02L731.93 2373.14M724.06 2396.77L731.93 2388.9M739.81 1924.12L747.69 1916.25M739.81 1939.88L747.69 1932M739.81 1955.63L747.69 1947.76M739.81 1971.39L747.69 1963.51M739.81 1987.14L747.69 1979.27M739.81 2002.9L747.69 1995.02M739.81 2018.65L747.69 2010.78M739.81 2034.41L747.69 2026.53M739.81 2050.16L747.69 2042.29M739.81 2065.92L747.69 2058.04M739.81 2081.67L747.69 2073.8M739.81 2097.43L747.69 2089.55M739.81 2113.18L747.69 2105.31M739.81 2128.94L747.69 2121.06M739.81 2144.69L747.69 2136.82M739.81 2160.45L747.69 2152.57M739.81 2176.2L747.69 2168.33M739.81 2191.96L747.69 2184.08M739.81 2207.71L747.69 2199.84M739.81 2223.47L747.69 2215.59M739.81 2239.22L747.69 2231.35M739.81 2254.98L747.69 2247.1M739.81 2270.73L747.69 2262.86M739.81 2286.49L747.69 2278.61M739.81 2302.24L747.69 2294.37M739.81 2318L747.69 2310.12M739.81 2333.75L747.69 2325.88M739.81 2349.51L747.69 2341.63M739.81 2365.26L747.69 2357.39M739.81 2381.02L747.69 2373.14M739.81 2396.77L747.69 2388.9M755.57 1924.12L763.44 1916.25M755.57 1939.88L763.44 1932M755.57 1955.63L763.44 1947.76M755.57 1971.39L763.44 1963.51M755.57 1987.14L763.44 1979.27M755.57 2002.9L763.44 1995.02M755.57 2018.65L763.44 2010.78M755.57 2034.41L763.44 2026.53M755.57 2050.16L763.44 2042.29M755.57 2065.92L763.44 2058.04M755.57 2081.67L763.44 2073.8M755.57 2097.43L763.44 2089.55M755.57 2113.18L763.44 2105.31M755.57 2128.94L763.44 2121.06M755.57 2144.69L763.44 2136.82M755.57 2160.45L763.44 2152.57M755.57 2176.2L763.44 2168.33M755.57 2191.96L763.44 2184.08M755.57 2207.71L763.44 2199.84M755.57 2223.47L763.44 2215.59M755.57 2239.22L763.44 2231.35M755.57 2254.98L763.44 2247.1M755.57 2270.73L763.44 2262.86M755.57 2286.49L763.44 2278.61M755.57 2302.24L763.44 2294.37M755.57 2318L763.44 2310.12M755.57 2333.75L763.44 2325.88M755.57 2349.51L763.44 2341.63M755.57 2365.26L763.44 2357.39M755.57 2381.02L763.44 2373.14M755.57 2396.77L763.44 2388.9M771.32 1924.12L779.2 1916.25M771.32 1939.88L779.2 1932M771.32 1955.63L779.2 1947.76M771.32 1971.39L779.2 1963.51M771.32 1987.14L779.2 1979.27M771.32 2002.9L779.2 1995.02M771.32 2018.65L779.2 2010.78M771.32 2034.41L779.2 2026.53M771.32 2050.16L779.2 2042.29M771.32 2065.92L779.2 2058.04M771.32 2081.67L779.2 2073.8M771.32 2097.43L779.2 2089.55M771.32 2113.18L779.2 2105.31M771.32 2128.94L779.2 2121.06M771.32 2144.69L779.2 2136.82M771.32 2160.45L779.2 2152.57M771.32 2176.2L779.2 2168.33M771.32 2191.96L779.2 2184.08M771.32 2207.71L779.2 2199.84M771.32 2223.47L779.2 2215.59M771.32 2239.22L779.2 2231.35M771.32 2254.98L779.2 2247.1M771.32 2270.73L779.2 2262.86M771.32 2286.49L779.2 2278.61M771.32 2302.24L779.2 2294.37M771.32 2318L779.2 2310.12M771.32 2333.75L779.2 2325.88M771.32 2349.51L779.2 2341.63M771.32 2365.26L779.2 2357.39M771.32 2381.02L779.2 2373.14M771.32 2396.77L779.2 2388.9M787.08 1924.12L794.95 1916.25M787.08 1939.88L794.95 1932M787.08 1955.63L794.95 1947.76M787.08 1971.39L794.95 1963.51M787.08 1987.14L794.95 1979.27M787.08 2002.9L794.95 1995.02M787.08 2018.65L794.95 2010.78M787.08 2034.41L794.95 2026.53M787.08 2050.16L794.95 2042.29M787.08 2065.92L794.95 2058.04M787.08 2081.67L794.95 2073.8M787.08 2097.43L794.95 2089.55M787.08 2113.18L794.95 2105.31M787.08 2128.94L794.95 2121.06M787.08 2144.69L794.95 2136.82M787.08 2160.45L794.95 2152.57M787.08 2176.2L794.95 2168.33M787.08 2191.96L794.95 2184.08M787.08 2207.71L794.95 2199.84M787.08 2223.47L794.95 2215.59M787.08 2239.22L794.95 2231.35M787.08 2254.98L794.95 2247.1M787.08 2270.73L794.95 2262.86M787.08 2286.49L794.95 2278.61M787.08 2302.24L794.95 2294.37M787.08 2318L794.95 2310.12M787.08 2333.75L794.95 2325.88M787.08 2349.51L794.95 2341.63M787.08 2365.26L794.95 2357.39M787.08 2381.02L794.95 2373.14M787.08 2396.77L794.95 2388.9M802.83 1924.12L810.71 1916.25M802.83 1939.88L810.71 1932M802.83 1955.63L810.71 1947.76M802.83 1971.39L810.71 1963.51M802.83 1987.14L810.71 1979.27M802.83 2002.9L810.71 1995.02M802.83 2018.65L810.71 2010.78M802.83 2034.41L810.71 2026.53M802.83 2050.16L810.71 2042.29M802.83 2065.92L810.71 2058.04M802.83 2081.67L810.71 2073.8M802.83 2097.43L810.71 2089.55M802.83 2113.18L810.71 2105.31M802.83 2128.94L810.71 2121.06M802.83 2144.69L810.71 2136.82M802.83 2160.45L810.71 2152.57M802.83 2176.2L810.71 2168.33M802.83 2191.96L810.71 2184.08M802.83 2207.71L810.71 2199.84M802.83 2223.47L810.71 2215.59M802.83 2239.22L810.71 2231.35M802.83 2254.98L810.71 2247.1M802.83 2270.73L810.71 2262.86M802.83 2286.49L810.71 2278.61M802.83 2302.24L810.71 2294.37M802.83 2318L810.71 2310.12M802.83 2333.75L810.71 2325.88M802.83 2349.51L810.71 2341.63M802.83 2365.26L810.71 2357.39M802.83 2381.02L810.71 2373.14M802.83 2396.77L810.71 2388.9" fill="none" stroke="#000" stroke-width="2.55"/>
<path clip-path="url(#cb2)" d="M897.75 2349.8H1116.75M897.75 2338.64H1116.75M897.75 2327.49H1116.75M897.75 2316.33H1116.75M897.75 2305.18H1116.75M897.75 2294.02H1116.75M897.75 2282.87H1116.75M897.75 2271.71H1116.75M897.75 2260.56H1116.75M897.75 2249.4H1116.75M897.75 2238.25H1116.75M897.75 2227.09H1116.75M897.75 2215.94H1116.75M897.75 2204.78H1116.75M897.75 2193.63H1116.75M897.75 2182.47H1116.75M897.75 2171.32H1116.75M897.75 2160.16H1116.75M897.75 2149.01H1116.75M897.75 2137.85H1116.75M897.75 2126.7H1116.75M897.75 2115.54H1116.75M897.75 2104.39H1116.75M897.75 2093.23H1116.75M897.75 2082.08H1116.75M897.75 2070.92H1116.75M897.75 2059.77H1116.75M897.75 2048.61H1116.75M897.75 2037.46H1116.75M897.75 2026.3H1116.75M897.75 2015.15H1116.75M897.75 2003.99H1116.75M897.75 1992.84H1116.75M897.75 1981.68H1116.75M897.75 1970.53H1116.75" fill="none" stroke="#000" stroke-width="2.5"/>
<g clip-path="url(#cb1)" fill="none" stroke="#fff" stroke-linecap="butt"><path d="M678.35 1925.2V1982.18M624.35 1925.2H732.35M624.35 1982.18H732.35" stroke-width="7"/></g>
<g clip-path="url(#cb2)" fill="none" stroke="#fff" stroke-linecap="butt"><path d="M1007.25 1941.72V1994.09M953.25 1941.72H1061.25M953.25 1994.09H1061.25" stroke-width="7"/></g>
<path d="M240.2 2360.8V1907.7H459.2V2360.8" fill="none" stroke="#000" stroke-width="8.2" stroke-linejoin="round"/>
<path d="M568.85 2360.8V1953.69H787.85V2360.8" fill="none" stroke="#000" stroke-width="8.2" stroke-linejoin="round"/>
<path d="M897.75 2360.8V1967.9H1116.75V2360.8" fill="none" stroke="#000" stroke-width="8.2" stroke-linejoin="round"/>
<g fill="none" stroke="#000" stroke-linecap="round"><path d="M349.7 1882.05V1933.36M294.75 1882.05H404.65M294.75 1933.36H404.65" stroke-width="5.3"/><path d="M678.35 1925.2V1982.18M623.4 1925.2H733.3M623.4 1982.18H733.3" stroke-width="5.3"/><path d="M1007.25 1941.72V1994.09M952.3 1941.72H1062.2M952.3 1994.09H1062.2" stroke-width="5.3"/></g>
<path d="M167.75 1702.9H185.2V2360.8M167.75 2360.8H195.2M167.75 2196.33H185.2M167.75 2031.85H185.2M167.75 1867.38H185.2" fill="none" stroke="#000" stroke-width="8.3" stroke-linecap="round" stroke-linejoin="round"/>
<path d="M185.2 2360.8H1172.7" fill="none" stroke="#000" stroke-width="8.3" stroke-linecap="butt"/>
<text transform="translate(163.2 2375.7) scale(0.985 1.02)" font-size="42" font-weight="bold" text-anchor="end">0.00</text>
<text transform="translate(163.2 2211.23) scale(0.985 1.02)" font-size="42" font-weight="bold" text-anchor="end">0.25</text>
<text transform="translate(163.2 2046.75) scale(0.985 1.02)" font-size="42" font-weight="bold" text-anchor="end">0.50</text>
<text transform="translate(163.2 1882.28) scale(0.985 1.02)" font-size="42" font-weight="bold" text-anchor="end">0.75</text>
<text transform="translate(163.2 1717.8) scale(0.985 1.02)" font-size="42" font-weight="bold" text-anchor="end">1.00</text><rect x="83.89" y="1712.03" width="8.15" height="7.37" fill="#fff"/><rect x="98.31" y="1712.03" width="7.62" height="7.37" fill="#fff"/>
<text transform="translate(349.7 2407.2) scale(0.985 1.02)" font-size="42" font-weight="bold" text-anchor="middle">0</text>
<text transform="translate(678.35 2407.2) scale(0.985 1.02)" font-size="42" font-weight="bold" text-anchor="middle">0.25</text>
<text transform="translate(1007.25 2407.2) scale(0.985 1.02)" font-size="42" font-weight="bold" text-anchor="middle">0.5</text>
<text transform="translate(391.35 2479.8) scale(1 1.04)" font-size="45" font-weight="bold" style="letter-spacing:0.874px;font-kerning:none">CHD-FA</text>
<text transform="translate(581.25 2479.8) scale(1 1.04)" font-size="45" font-weight="bold" style="letter-spacing:-0.139px;font-kerning:none">Concentration</text>
<text transform="translate(895.56 2479.8) scale(1 1.04)" font-size="45" font-weight="bold" style="letter-spacing:0.150px;font-kerning:none">(%)</text>
<text transform="translate(46.3 2212.64) rotate(-90) scale(1 1.07)" font-size="45.5" font-weight="bold" style="letter-spacing:-0.992px;font-kerning:none">Biomass</text>
<text transform="translate(46.3 2016.77) rotate(-90) scale(1 1.07)" font-size="45.5" font-weight="bold" style="letter-spacing:-0.773px;font-kerning:none">OD</text>
<text transform="translate(61.5 1936.2) rotate(-90) scale(1 1.06)" font-size="32.6" font-weight="bold" style="letter-spacing:-0.067px;font-kerning:none">570nm</text>
<text transform="translate(7.3 1714.3) scale(1 1.04)" font-size="46.5" font-weight="bold" text-anchor="start">B</text></g>
</g>
</svg>
</body>
</html>
